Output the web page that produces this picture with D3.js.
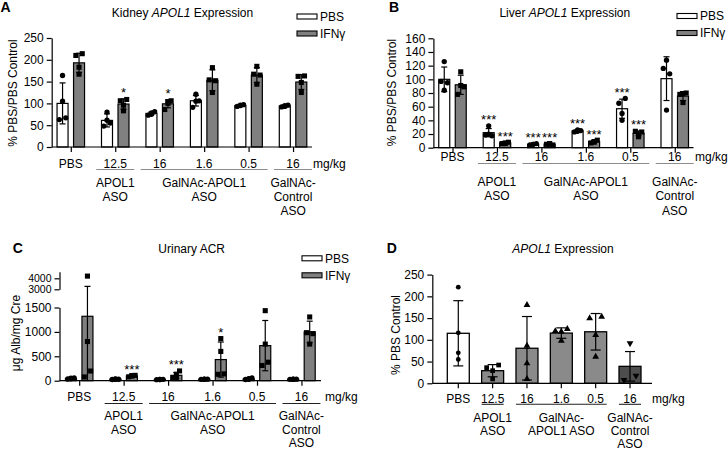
<!DOCTYPE html>
<html><head><meta charset="utf-8">
<script src="https://cdn.jsdelivr.net/npm/d3@7"></script>
<style>
body{margin:0;background:#fff;}
svg{display:block;font-family:"Liberation Sans",Arial,Helvetica,sans-serif;}
</style></head><body>
<svg id="chart" width="728" height="450"></svg>
<script>
// ================= DATA =================
const groupIds   = ['pbs','apol','g16','g1_6','g0_5','ctrl'];
const doseLabels = ['PBS','12.5','16','1.6','0.5','16'];
const treatments = ['PBS','IFNγ'];
const agentNamesABC = [['APOL1','ASO'], ['GalNAc-APOL1','ASO'], ['GalNAc-','Control','ASO']];
const agentNamesD   = [['APOL1','ASO'], ['GalNAc-','APOL1 ASO'], ['GalNAc-','Control','ASO']];
const agentSpans = [['apol','apol'], ['g16','g0_5'], ['ctrl','ctrl']];

// Panel A: Kidney APOL1 expression (% PBS/PBS control)
const kidneyTicks   = [0,50,100,150,200,250];
const kidneyPbsMean = [100, 61, 77, 106, 95, 94];
const kidneyPbsSd   = [47, 15, 3, 12, 2, 2];
const kidneyPbsPts  = [[63,67,164,105],[48,55,80,61.5],[73,81,75,78],[91,106,121,105],[93,97,95,96],[92,96,93,95]];
const kidneyPbsStars = ['','','','','',''];
const kidneyIfnMean = [193, 98.5, 99, 153, 165, 149];
const kidneyIfnSd   = [22, 12, 9, 24, 17, 17];
const kidneyIfnPts  = [[210,214,183,167],[106,109,83,96],[86,106,104,100],[154,152,182,125],[167,165,185,144],[162,163,148,125]];
const kidneyIfnStars = ['','*','*','','',''];

// Panel B: Liver APOL1 expression
const liverTicks   = [0,20,40,60,80,100,120,140,160];
const liverPbsMean = [100, 22, 5, 24.5, 57, 101];
const liverPbsSd   = [18, 6, 1, 1.5, 14, 32];
const liverPbsPts  = [[97,95,126,84],[18.5,17.5,32,20],[4,6,5,5],[23,25,26,24],[65,72,50,40],[116,108,128,55]];
const liverPbsStars = ['','***','***','***','***',''];
const liverIfnMean = [92, 7, 5, 9, 21, 75.5];
const liverIfnSd   = [14, 1, 0.5, 1.5, 3.5, 6.5];
const liverIfnPts  = [[78,89,111,91],[6,8,7,6],[5,4,5,6],[7,11,8,9],[24,23,18.5,16],[78,80,79,66]];
const liverIfnStars = ['','***','***','***','***',''];

// Panel C: Urinary ACR (µg Alb/mg Cre), broken axis
const acrTicksLow  = [0,500,1000,1500];
const acrTicksHigh = [3000,4000];
const acrPbsMean = [45, 30, 25, 30, 38, 30];
const acrPbsSd   = [10, 4, 3, 3, 13, 2];
const acrPbsPts  = [[35,55,40,50],[25,30,35,30],[22,28,25,25],[28,32,30,30],[25,55,30,40],[28,32,30,30]];
const acrPbsStars = ['','','','','',''];
const acrIfnMean = [1320, 97, 110, 433, 719, 1000];
const acrIfnSd   = [1946, 13, 60, 360, 515, 220];
const acrIfnPts  = [[77,198,4200,803],[80,110,95,105],[60,200,130,50],[131,140,863,600],[312,379,1435,750],[984,964,1306,750]];
const acrIfnStars = ['','***','***','*','',''];

// Panel D: APOL1 expression (% PBS control)
const doseTicks = [0,50,100,150,200,250];
const doseMean  = [115, 29, 80.6, 115.5, 118.5, 39];
const doseSd    = [75, 14, 73, 12, 42, 34];
const dosePts   = [[221,116,70,55],[36,42,29,10],[180,86.5,46,10],[120,125,119,98],[149.5,153,111,61],[7.6,17.5,92]];
const doseShapes = ['circle','square','triangle','triangle','triangle','triangleDown'];

// ================= STYLE =================
const GREY = '#808080', GREY_D = '#8a8a8a', DARK = '#4d4d4d';
const FS = 12;
const svg = d3.select('#chart');

function txt(g, x, y, s, o = {}) {
  const t = g.append('text').attr('x', x).attr('y', y)
    .attr('font-size', o.size || FS)
    .attr('text-anchor', o.anchor || 'middle')
    .attr('fill', '#000');
  if (o.weight) t.attr('font-weight', o.weight);
  if (o.rotate) t.attr('transform', `rotate(-90,${x},${y})`);
  if (Array.isArray(s)) s.forEach(p => t.append('tspan').text(p.t).attr('font-style', p.i ? 'italic' : null));
  else t.text(s);
  return t;
}
function symbolPath(shape, size) {
  const map = {circle: d3.symbolCircle, square: d3.symbolSquare, triangle: d3.symbolTriangle, triangleDown: d3.symbolTriangle};
  return d3.symbol().type(map[shape]).size(size)();
}
function styleAxis(sel, fs) {
  sel.selectAll('path,line').attr('stroke', '#000').attr('stroke-width', 1.2);
  sel.selectAll('text').attr('font-size', fs || FS).attr('fill', '#000').attr('font-family', null);
}

function drawXAxisAndLabels(g, x, cfg, names, halfSpan) {
  const y0 = cfg.axisY;
  g.append('line').attr('x1', cfg.axisX).attr('x2', cfg.axisEnd).attr('y1', y0).attr('y2', y0)
    .attr('stroke', '#000').attr('stroke-width', 1.2);
  const xa = g.append('g').attr('transform', `translate(0,${y0})`)
    .call(d3.axisBottom(x).tickSize(5).tickSizeOuter(0).tickFormat(''));
  xa.select('.domain').remove();
  styleAxis(xa);
  const cx = id => x(id) + (x.bandwidth ? x.bandwidth() / 2 : 0);
  groupIds.forEach((id, i) => txt(g, cx(id), cfg.tickLabelY + 4.3, doseLabels[i]));
  txt(g, cfg.mgX, cfg.tickLabelY + 4.3, 'mg/kg', {anchor: 'start'});
  agentSpans.forEach((sp, k) => {
    const a = cx(sp[0]) - halfSpan, b = cx(sp[1]) + halfSpan;
    g.append('line').attr('x1', a).attr('x2', b).attr('y1', cfg.underlineY).attr('y2', cfg.underlineY)
      .attr('stroke', cfg.lineColor).attr('stroke-width', 1.1);
    names[k].forEach((ln, j) => txt(g, (a + b) / 2, cfg.rowY[j] + 4.3, ln));
  });
}

function errorBar(g, cx, y, m, sd, cap, yMin) {
  const lo = Math.max(yMin, m - sd), hi = m + sd;
  g.append('line').attr('x1', cx).attr('x2', cx).attr('y1', y(lo)).attr('y2', y(hi))
    .attr('stroke', '#000').attr('stroke-width', 1.2);
  g.append('line').attr('x1', cx - cap / 2).attr('x2', cx + cap / 2).attr('y1', y(hi)).attr('y2', y(hi))
    .attr('stroke', '#000').attr('stroke-width', 1.2);
  if (m - sd > yMin)
    g.append('line').attr('x1', cx - cap / 2).attr('x2', cx + cap / 2).attr('y1', y(lo)).attr('y2', y(lo))
      .attr('stroke', '#000').attr('stroke-width', 1.2);
}

function legend(g, lx, ly) {
  [['PBS', '#fff'], ['IFNγ', GREY]].forEach((d, i) => {
    const yy = ly + i * 17;
    g.append('rect').attr('x', lx).attr('y', yy - 2.5).attr('width', 20).attr('height', 5)
      .attr('fill', d[1]).attr('stroke', '#000').attr('stroke-width', 1.1);
    txt(g, lx + 23, yy + 4.3, d[0], {anchor: 'start'});
  });
}

function groupedPanel(cfg) {
  const g = svg.append('g');
  const x = d3.scalePoint().domain(groupIds).range([cfg.c0, cfg.c0 + 5 * cfg.step]);
  const xi = d3.scaleBand().domain(treatments).range([-13.75, 13.75]).paddingInner(1 / 3);
  const y = cfg.y;
  const bw = xi.bandwidth();
  const series = [
    {t: 'PBS',  mean: cfg.pbsMean, sd: cfg.pbsSd, pts: cfg.pbsPts, stars: cfg.pbsStars, fill: '#fff', shape: 'circle', size: 22},
    {t: 'IFNγ', mean: cfg.ifnMean, sd: cfg.ifnSd, pts: cfg.ifnPts, stars: cfg.ifnStars, fill: GREY, shape: 'square', size: 26}
  ];
  const jitter = [-3.2, 3.2, 0, 0];
  series.forEach(s => {
    g.selectAll(null).data(s.mean).join('rect')
      .attr('x', (d, i) => x(groupIds[i]) + xi(s.t)).attr('width', bw)
      .attr('y', d => y(d)).attr('height', d => y(0) - y(d))
      .attr('fill', s.fill).attr('stroke', '#000').attr('stroke-width', 1.2);
  });
  series.forEach(s => {
    s.mean.forEach((m, i) => errorBar(g, x(groupIds[i]) + xi(s.t) + bw / 2, y, m, s.sd[i], 6, 0));
  });
  series.forEach(s => {
    s.pts.forEach((arr, i) => {
      const cx = x(groupIds[i]) + xi(s.t) + bw / 2;
      arr.forEach((v, j) => g.append('path').attr('d', symbolPath(s.shape, s.size))
        .attr('transform', `translate(${cx + jitter[j]},${y(v)})`).attr('fill', '#000'));
      if (s.stars[i]) {
        const top = Math.max(s.mean[i] + s.sd[i], d3.max(arr));
        txt(g, cx, y(top) - 9 + 7.5, s.stars[i], {size: 13});
      }
    });
  });
  // y axis
  cfg.yAxes.forEach(ax => {
    const a = g.append('g').attr('transform', `translate(${cfg.axisX},0)`)
      .call(d3.axisLeft(ax.scale).tickValues(ax.ticks).tickSize(5).tickSizeOuter(0).tickFormat(d3.format('d')));
    styleAxis(a, ax.fs);
  });
  drawXAxisAndLabels(g, x, cfg, agentNamesABC, 19);
  // titles
  txt(g, cfg.title[0], cfg.title[1] + 4.3, cfg.titleText);
  txt(g, cfg.letter[0], cfg.letter[1], cfg.letterText, {anchor: 'start', weight: 'bold', size: 14});
  txt(g, cfg.ylab[0] + 4.3, cfg.ylab[1], cfg.ylabText, {rotate: true});
  legend(g, cfg.legend[0], cfg.legend[1]);
}

// ---- Panel A ----
const yA = d3.scaleLinear().domain([0, 250]).range([147, 38]);
groupedPanel({
  y: yA, yAxes: [{scale: yA, ticks: kidneyTicks}],
  axisX: 51.7, axisY: 147, c0: 70.8, step: 44.45, axisEnd: 312,
  pbsMean: kidneyPbsMean, pbsSd: kidneyPbsSd, pbsPts: kidneyPbsPts, pbsStars: kidneyPbsStars,
  ifnMean: kidneyIfnMean, ifnSd: kidneyIfnSd, ifnPts: kidneyIfnPts, ifnStars: kidneyIfnStars,
  tickLabelY: 163.3, underlineY: 169.5, rowY: [183, 196.5, 210.5], mgX: 313, lineColor: '#8c8c8c',
  title: [182.5, 12.7], titleText: [{t: 'Kidney '}, {t: 'APOL1', i: true}, {t: ' Expression'}],
  letter: [0.5, 11.5], letterText: 'A',
  ylab: [12.5, 93], ylabText: '% PBS/PBS Control',
  legend: [297, 16.5]
});

// ---- Panel B ----
const yB = d3.scaleLinear().domain([0, 160]).range([147.7, 38.3]);
groupedPanel({
  y: yB, yAxes: [{scale: yB, ticks: liverTicks}],
  axisX: 433.4, axisY: 147.7, c0: 452.5, step: 44.45, axisEnd: 693.5,
  pbsMean: liverPbsMean, pbsSd: liverPbsSd, pbsPts: liverPbsPts, pbsStars: liverPbsStars,
  ifnMean: liverIfnMean, ifnSd: liverIfnSd, ifnPts: liverIfnPts, ifnStars: liverIfnStars,
  tickLabelY: 157, underlineY: 163.5, rowY: [182, 196, 210.5], mgX: 695, lineColor: '#8c8c8c',
  title: [564.8, 12.7], titleText: [{t: 'Liver '}, {t: 'APOL1', i: true}, {t: ' Expression'}],
  letter: [389, 11.5], letterText: 'B',
  ylab: [392, 92.5], ylabText: '% PBS/PBS Control',
  legend: [677, 16]
});

// ---- Panel C (broken y axis) ----
const yCLow = d3.scaleLinear().domain([0, 1500]).range([380.7, 307.5]);
const yCHigh = d3.scaleLinear().domain([3000, 4600]).range([289.3, 271.7]);
const yC = d3.scaleLinear().domain([0, 1500, 3000, 4600]).range([380.7, 307.5, 289.3, 271.7]);
groupedPanel({
  y: yC, yAxes: [{scale: yCLow, ticks: acrTicksLow}, {scale: yCHigh, ticks: acrTicksHigh, fs: 10.5}],
  axisX: 59.5, axisY: 380.7, c0: 79.2, step: 44.45, axisEnd: 321,
  pbsMean: acrPbsMean, pbsSd: acrPbsSd, pbsPts: acrPbsPts, pbsStars: acrPbsStars,
  ifnMean: acrIfnMean, ifnSd: acrIfnSd, ifnPts: acrIfnPts, ifnStars: acrIfnStars,
  tickLabelY: 397, underlineY: 403.5, rowY: [416, 429.5, 443], mgX: 325, lineColor: '#222',
  title: [191.7, 248.3], titleText: 'Urinary ACR',
  letter: [12.7, 252.5], letterText: 'C',
  ylab: [15.5, 333], ylabText: 'μg Alb/mg Cre',
  legend: [302, 258.3]
});

// ---- Panel D ----
(function () {
  const g = svg.append('g');
  const x = d3.scaleBand().domain(groupIds).range([447.3, 641]).paddingInner(0.36).paddingOuter(0);
  const y = d3.scaleLinear().domain([0, 250]).range([383.3, 274.6]);
  const bw = x.bandwidth();
  const fills = ['#fff', GREY_D, GREY_D, GREY_D, GREY_D, DARK];
  const jitterD = [[0,0,0,0],[-6,6,0,0],[0,0,0,0],[-6,6,0,0],[-6,6,0,0],[-6,6,0]];
  g.selectAll(null).data(doseMean).join('rect')
    .attr('x', (d, i) => x(groupIds[i])).attr('width', bw)
    .attr('y', d => y(d)).attr('height', d => y(0) - y(d))
    .attr('fill', (d, i) => fills[i]).attr('stroke', '#000').attr('stroke-width', 1.3);
  doseMean.forEach((m, i) => errorBar(g, x(groupIds[i]) + bw / 2, y, m, doseSd[i], 10, 0));
  dosePts.forEach((arr, i) => {
    const cx = x(groupIds[i]) + bw / 2;
    const sh = doseShapes[i];
    const size = sh === 'circle' ? 18 : (sh === 'square' ? 22 : 20);
    arr.forEach((v, j) => g.append('path').attr('d', symbolPath(sh, size))
      .attr('transform', `translate(${cx + jitterD[i][j]},${y(v)})` + (sh === 'triangleDown' ? ' rotate(180)' : ''))
      .attr('fill', '#000'));
  });
  const a = g.append('g').attr('transform', 'translate(432.3,0)')
    .call(d3.axisLeft(y).tickValues(doseTicks).tickSize(5).tickSizeOuter(0).tickFormat(d3.format('d')));
  styleAxis(a);
  drawXAxisAndLabels(g, x, {axisX: 432.3, axisY: 383.3, axisEnd: 652, tickLabelY: 398.3, underlineY: 404.3,
    rowY: [417.3, 430.5, 443.5], mgX: 652, lineColor: '#222'}, agentNamesD, 11);
  txt(g, 563, 248.3 + 4.3, [{t: 'APOL1', i: true}, {t: ' Expression'}]);
  txt(g, 386.7, 252.5, 'D', {anchor: 'start', weight: 'bold', size: 14});
  txt(g, 395.7 + 4.3, 335, '% PBS Control', {rotate: true});
})();
</script>
</body></html>
